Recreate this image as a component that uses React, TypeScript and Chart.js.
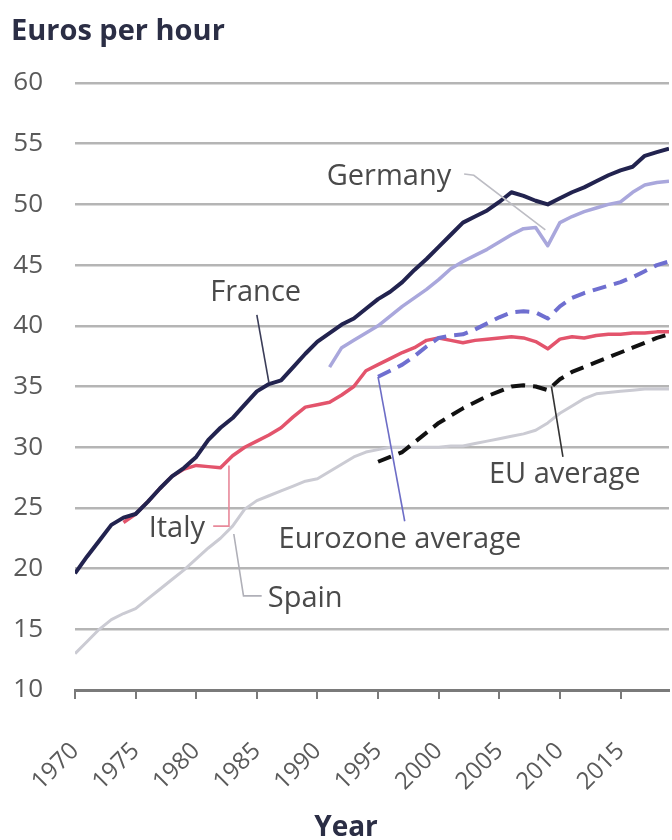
import React, { useEffect, useRef } from "react";
import { Chart, registerables } from "chart.js";

Chart.register(...registerables);

const years = [
  1970, 1971, 1972, 1973, 1974, 1975, 1976, 1977, 1978, 1979,
  1980, 1981, 1982, 1983, 1984, 1985, 1986, 1987, 1988, 1989,
  1990, 1991, 1992, 1993, 1994, 1995, 1996, 1997, 1998, 1999,
  2000, 2001, 2002, 2003, 2004, 2005, 2006, 2007, 2008, 2009,
  2010, 2011, 2012, 2013, 2014, 2015, 2016, 2017, 2018, 2019,
];

const france = [
  19.6, 21.0, 22.3, 23.6, 24.2, 24.5, 25.5, 26.6, 27.6, 28.3,
  29.2, 30.6, 31.6, 32.4, 33.5, 34.6, 35.2, 35.5, 36.6, 37.7,
  38.7, 39.4, 40.1, 40.6, 41.4, 42.2, 42.8, 43.6, 44.6, 45.5,
  46.5, 47.5, 48.5, 49.0, 49.5, 50.2, 51.0, 50.7, 50.3, 50.0,
  50.5, 51.0, 51.4, 51.9, 52.4, 52.8, 53.1, 54.0, 54.3, 54.6,
];

const germany = [
  null, null, null, null, null, null, null, null, null, null,
  null, null, null, null, null, null, null, null, null, null,
  null, 36.6, 38.2, 38.8, 39.4, 40.0, 40.8, 41.6, 42.3, 43.0,
  43.8, 44.7, 45.3, 45.8, 46.3, 46.9, 47.5, 48.0, 48.1, 46.6,
  48.5, 49.0, 49.4, 49.7, 50.0, 50.2, 51.0, 51.6, 51.8, 51.9,
];

const italy = [
  null, null, null, null, 23.8, 24.5, 25.5, 26.6, 27.6, 28.2,
  28.5, 28.4, 28.3, 29.3, 30.0, 30.5, 31.0, 31.6, 32.5, 33.3,
  33.5, 33.7, 34.3, 35.0, 36.3, 36.8, 37.3, 37.8, 38.2, 38.8,
  39.0, 38.8, 38.6, 38.8, 38.9, 39.0, 39.1, 39.0, 38.7, 38.1,
  38.9, 39.1, 39.0, 39.2, 39.3, 39.3, 39.4, 39.4, 39.5, 39.5,
];

const spain = [
  13.0, 14.0, 15.0, 15.8, 16.3, 16.7, 17.5, 18.3, 19.1, 19.9,
  20.8, 21.7, 22.5, 23.5, 24.9, 25.6, 26.0, 26.4, 26.8, 27.2,
  27.4, 28.0, 28.6, 29.2, 29.6, 29.8, 30.0, 30.0, 30.0, 30.0,
  30.0, 30.1, 30.1, 30.3, 30.5, 30.7, 30.9, 31.1, 31.4, 32.0,
  32.8, 33.4, 34.0, 34.4, 34.5, 34.6, 34.7, 34.8, 34.8, 34.8,
];

const eurozoneAverage = [
  null, null, null, null, null, null, null, null, null, null,
  null, null, null, null, null, null, null, null, null, null,
  null, null, null, null, null, 35.8, 36.3, 36.8, 37.5, 38.3,
  39.0, 39.2, 39.3, 39.7, 40.2, 40.7, 41.1, 41.2, 41.1, 40.6,
  41.6, 42.3, 42.7, 43.0, 43.3, 43.6, 44.0, 44.5, 45.0, 45.3,
];

const euAverage = [
  null, null, null, null, null, null, null, null, null, null,
  null, null, null, null, null, null, null, null, null, null,
  null, null, null, null, null, 28.8, 29.2, 29.6, 30.4, 31.2,
  32.0, 32.6, 33.2, 33.7, 34.2, 34.6, 35.0, 35.1, 35.0, 34.7,
  35.6, 36.2, 36.6, 37.0, 37.4, 37.8, 38.2, 38.6, 39.0, 39.3,
];

const xTickYears = [1970, 1975, 1980, 1985, 1990, 1995, 2000, 2005, 2010, 2015];
const yTickValues = [10, 15, 20, 25, 30, 35, 40, 45, 50, 55, 60];

const titleText = "Euros per hour";
const xAxisTitle = "Year";

type Annot = {
  text: string;
  tx: number;
  ty: number;
  align: CanvasTextAlign;
  leader: [number, number][];
  leaderColor: string;
};

// label anchors and leader lines in data coordinates (year, euros)
const annotations: Annot[] = [
  { text: "Germany", tx: 1995.9, ty: 52.3, align: "center", leader: [[2002.1, 52.5], [2002.9, 52.4], [2008.8, 47.9]], leaderColor: "#bdbdc4" },
  { text: "France", tx: 1984.9, ty: 42.7, align: "center", leader: [[1985.0, 40.9], [1986.0, 35.3]], leaderColor: "#3b3d58" },
  { text: "Italy", tx: 1978.4, ty: 23.3, align: "center", leader: [[1981.4, 23.5], [1982.7, 23.5], [1982.7, 28.5]], leaderColor: "#e8899a" },
  { text: "Spain", tx: 1985.9, ty: 17.5, align: "left", leader: [[1983.1, 22.85], [1983.9, 17.75], [1985.4, 17.75]], leaderColor: "#b0b0b8" },
  { text: "Eurozone average", tx: 1996.8, ty: 22.4, align: "center", leader: [[1995.0, 35.8], [1997.2, 23.9]], leaderColor: "#6d6dc6" },
  { text: "EU average", tx: 2010.4, ty: 27.7, align: "center", leader: [[2009.3, 35.0], [2010.25, 29.2]], leaderColor: "#333333" },
];

const toPoints = (arr: (number | null)[]) => years.map((yr, i) => ({ x: yr, y: arr[i] }));

const annotationPlugin = {
  id: "annots",
  afterDatasetsDraw(chart: any) {
    const ctx = chart.ctx as CanvasRenderingContext2D;
    const xs = chart.scales.x;
    const ys = chart.scales.y;
    ctx.save();
    annotations.forEach((a) => {
      ctx.strokeStyle = a.leaderColor;
      ctx.lineWidth = 1.6;
      ctx.setLineDash([]);
      ctx.beginPath();
      a.leader.forEach(([yr, v], i) => {
        const px = xs.getPixelForValue(yr);
        const py = ys.getPixelForValue(v);
        if (i === 0) ctx.moveTo(px, py);
        else ctx.lineTo(px, py);
      });
      ctx.stroke();
      ctx.font = '29px "Open Sans"';
      ctx.fillStyle = "#4a4a4a";
      ctx.textAlign = a.align;
      ctx.textBaseline = "middle";
      ctx.fillText(a.text, xs.getPixelForValue(a.tx), ys.getPixelForValue(a.ty));
    });
    ctx.font = 'bold 29px "Open Sans"';
    ctx.fillStyle = "#2b2e45";
    ctx.textAlign = "left";
    ctx.textBaseline = "alphabetic";
    ctx.fillText(titleText, 11, 40);
    ctx.font = 'bold 28px "Open Sans"';
    ctx.textAlign = "center";
    ctx.textBaseline = "middle";
    ctx.fillText(xAxisTitle, 346, 828);
    ctx.restore();
  },
};

export default function App() {
  const ref = useRef<HTMLCanvasElement | null>(null);
  useEffect(() => {
    if (!ref.current) return;
    const chart = new Chart(ref.current, {
      type: "line",
      data: {
        datasets: [
          { label: "France", data: toPoints(france), borderColor: "#22234f", borderWidth: 4 },
          { label: "EU average", data: toPoints(euAverage), borderColor: "#111111", borderWidth: 4, borderDash: [14, 8] },
          { label: "Eurozone average", data: toPoints(eurozoneAverage), borderColor: "#6f6fd0", borderWidth: 4, borderDash: [14, 8] },
          { label: "Italy", data: toPoints(italy), borderColor: "#e3546c", borderWidth: 3.5 },
          { label: "Germany", data: toPoints(germany), borderColor: "#a9a7dc", borderWidth: 3.5 },
          { label: "Spain", data: toPoints(spain), borderColor: "#cbcbd3", borderWidth: 3 },
        ] as any,
      },
      options: {
        responsive: false,
        animation: false,
        devicePixelRatio: 1,
        layout: { padding: { top: 83, right: 3, bottom: 0, left: 0 } },
        elements: {
          point: { radius: 0 },
          line: { tension: 0, borderJoinStyle: "round", fill: false },
        },
        plugins: { legend: { display: false }, tooltip: { enabled: false }, title: { display: false } },
        scales: {
          x: {
            type: "linear",
            min: 1970,
            max: 2019,
            afterBuildTicks: (s: any) => {
              s.ticks = xTickYears.map((v) => ({ value: v }));
            },
            afterFit: (s: any) => {
              s.height = 150;
              s.paddingLeft = 0;
              s.paddingRight = 0;
            },
            grid: { drawOnChartArea: false, drawTicks: true, tickLength: 9, color: "#7a7a7a", lineWidth: 2 },
            border: { display: true, color: "#7a7a7a", width: 3 },
            ticks: {
              minRotation: 45,
              maxRotation: 45,
              autoSkip: false,
              padding: 38,
              color: "#5a5a5a",
              font: { family: "Open Sans", size: 24 },
              callback: (v: any) => String(v),
            },
          },
          y: {
            type: "linear",
            min: 10,
            max: 60,
            afterBuildTicks: (s: any) => {
              s.ticks = yTickValues.map((v) => ({ value: v }));
            },
            afterFit: (s: any) => {
              s.width = 75;
            },
            grid: { color: "#b5b5b5", lineWidth: 2.5, drawTicks: false },
            border: { display: false },
            ticks: {
              padding: 32,
              color: "#5a5a5a",
              font: { family: "Open Sans", size: 26 },
              callback: (v: any) => String(v),
            },
          },
        },
      } as any,
      plugins: [annotationPlugin],
    });
    return () => chart.destroy();
  }, []);
  return (
    <div style={{ position: "absolute", left: 0, top: 0, width: 672, height: 840, background: "#fff" }}>
      <canvas ref={ref} width={672} height={840} />
    </div>
  );
}
